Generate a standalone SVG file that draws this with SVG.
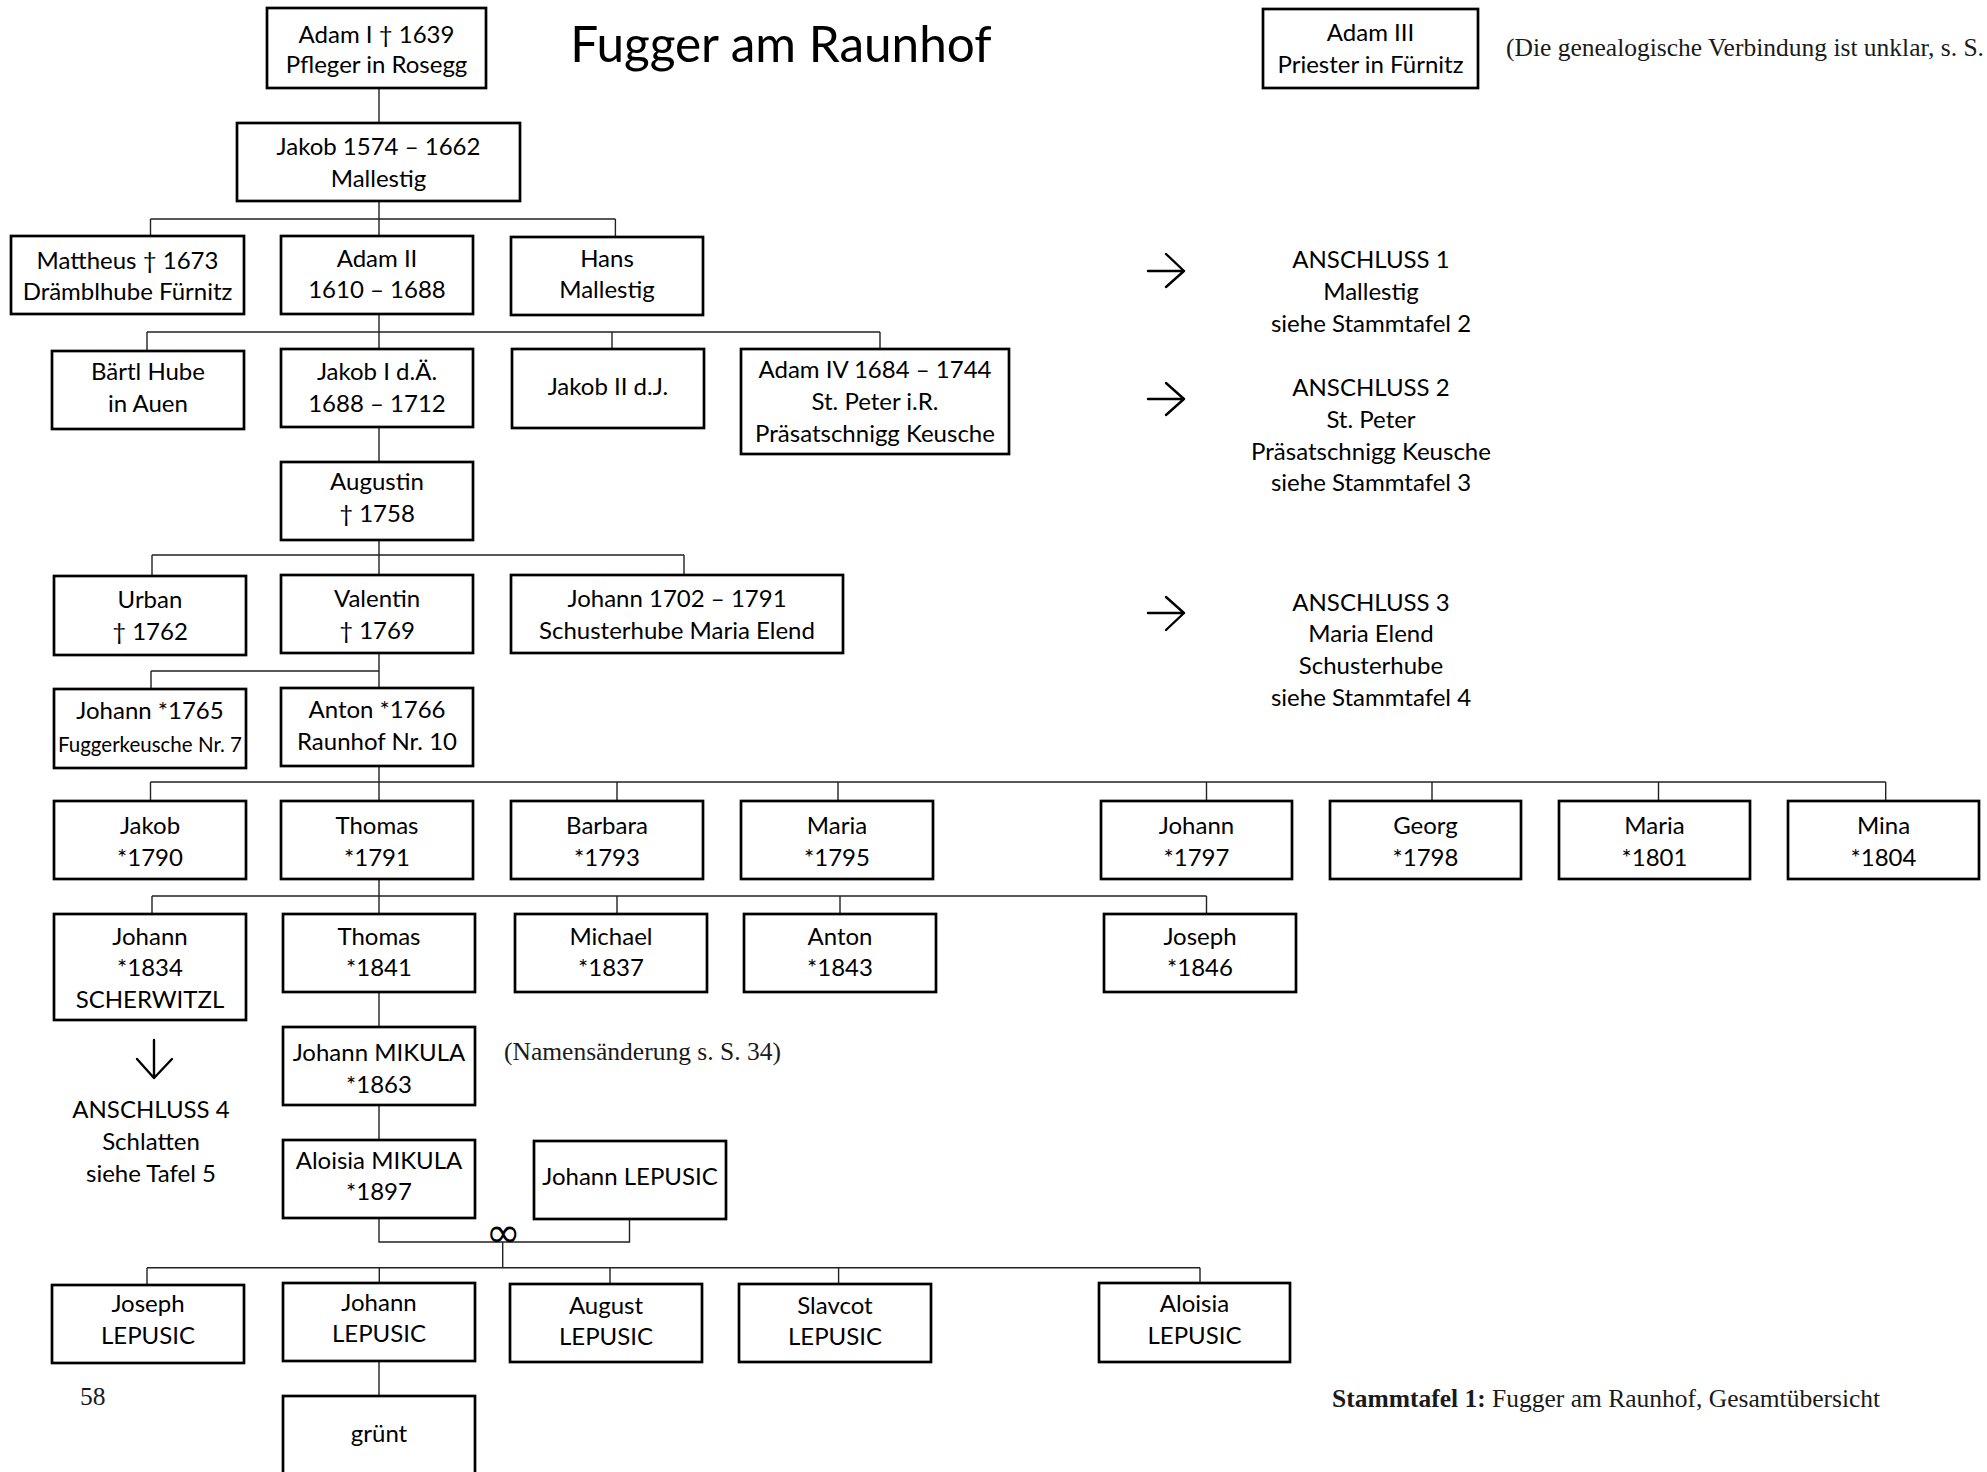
<svg xmlns="http://www.w3.org/2000/svg" width="1987" height="1472" viewBox="0 0 1987 1472">
<style>
.b{fill:#fff;stroke:#000;stroke-width:2.7}
.t{font-family:Lato,"Open Sans",sans-serif;font-size:24px;fill:#000;text-anchor:middle}
.sm{font-size:20.5px}
.c{fill:none;stroke:#222;stroke-width:1.4}
.s{font-family:"Liberation Serif",serif;font-size:25.5px;fill:#1a1a1a}
.ar{fill:none;stroke:#000;stroke-width:2.4;stroke-linecap:round;stroke-linejoin:round}
</style>
<rect width="1987" height="1472" fill="#fff"/>
<g id="connectors" class="c">
<path d="M379 88V123M379 201V236M150.5 219H615.4M150.5 219V236M615.4 219V237"/>
<path d="M379 314V349M147 332H880M147 332V351M612 332V349M880 332V349"/>
<path d="M379 427V462M379 540V575M152 555H684M152 555V576M684 555V575"/>
<path d="M379 653V688M151 671H379M151 671V689"/>
<path d="M379 766V801M150.5 782H1885.7M150.5 782V801M617 782V801M838 782V801M1206.5 782V801M1432 782V801M1658.5 782V801M1885.7 782V801"/>
<path d="M379 879V914M152 896H1206.5M152 896V914M617 896V914M840 896V914M1206.5 896V914"/>
<path d="M379 992V1027M379 1105V1140M379 1217V1242H629.5V1219M502.7 1242V1267.7"/>
<path d="M147 1267.7H1200M147 1267.7V1285M379.3 1267.7V1283M610 1267.7V1284M838.6 1267.7V1284M1200 1267.7V1283M379 1361V1396"/>
</g>
<g id="title"><text class="t" x="781" y="62" style="font-size:49.5px">Fugger am Raunhof</text></g>
<g id="note-top"><text class="s" x="1506" y="56">(Die genealogische Verbindung ist unklar, s. S.</text></g>
<g id="adam1"><rect class="b" x="267" y="8" width="219" height="80"/><text class="t" x="376.5" y="42.5">Adam I † 1639</text><text class="t" x="376.5" y="73">Pfleger in Rosegg</text></g>
<g id="adam3"><rect class="b" x="1263" y="9" width="215" height="79"/><text class="t" x="1370.5" y="41">Adam III</text><text class="t" x="1370.5" y="72.7">Priester in Fürnitz</text></g>
<g id="jakob1574"><rect class="b" x="237" y="123" width="283" height="78"/><text class="t" x="378.5" y="155">Jakob 1574 – 1662</text><text class="t" x="378.5" y="187">Mallestig</text></g>
<g id="mattheus"><rect class="b" x="11" y="236" width="233" height="78"/><text class="t" x="127.5" y="269">Mattheus † 1673</text><text class="t" x="127.5" y="300">Drämblhube Fürnitz</text></g>
<g id="adam2"><rect class="b" x="281" y="236" width="192" height="78"/><text class="t" x="377" y="266.7">Adam II</text><text class="t" x="377" y="298.3">1610 – 1688</text></g>
<g id="hans"><rect class="b" x="511" y="237" width="192" height="78"/><text class="t" x="607" y="266.7">Hans</text><text class="t" x="607" y="298.3">Mallestig</text></g>
<g id="baertl"><rect class="b" x="52" y="351" width="192" height="78"/><text class="t" x="148" y="380">Bärtl Hube</text><text class="t" x="148" y="411.7">in Auen</text></g>
<g id="jakob1da"><rect class="b" x="281" y="349" width="192" height="78"/><text class="t" x="377" y="380">Jakob I d.Ä.</text><text class="t" x="377" y="411.7">1688 – 1712</text></g>
<g id="jakob2dj"><rect class="b" x="512" y="349" width="192" height="79"/><text class="t" x="608" y="395">Jakob II d.J.</text></g>
<g id="adam4"><rect class="b" x="741" y="349" width="268" height="105"/><text class="t" x="875" y="378">Adam IV 1684 – 1744</text><text class="t" x="875" y="410">St. Peter i.R.</text><text class="t" x="875" y="441.7">Präsatschnigg Keusche</text></g>
<g id="augustin"><rect class="b" x="281" y="462" width="192" height="78"/><text class="t" x="377" y="490">Augustin</text><text class="t" x="377" y="521.7">† 1758</text></g>
<g id="urban"><rect class="b" x="54" y="576" width="192" height="79"/><text class="t" x="150" y="608">Urban</text><text class="t" x="150" y="640">† 1762</text></g>
<g id="valentin"><rect class="b" x="281" y="575" width="192" height="78"/><text class="t" x="377" y="607">Valentin</text><text class="t" x="377" y="639">† 1769</text></g>
<g id="johann1702"><rect class="b" x="511" y="575" width="332" height="78"/><text class="t" x="677" y="607">Johann 1702 – 1791</text><text class="t" x="677" y="639">Schusterhube Maria Elend</text></g>
<g id="johann1765"><rect class="b" x="54" y="689" width="192" height="79"/><text class="t" x="150" y="719.3">Johann *1765</text><text class="t sm" x="150" y="751.7">Fuggerkeusche Nr. 7</text></g>
<g id="anton1766"><rect class="b" x="281" y="688" width="192" height="78"/><text class="t" x="377" y="718.3">Anton *1766</text><text class="t" x="377" y="750">Raunhof Nr. 10</text></g>
<g id="jakob1790"><rect class="b" x="54" y="801" width="192" height="78"/><text class="t" x="150" y="834">Jakob</text><text class="t" x="150" y="866">*1790</text></g>
<g id="thomas1791"><rect class="b" x="281" y="801" width="192" height="78"/><text class="t" x="377" y="834">Thomas</text><text class="t" x="377" y="866">*1791</text></g>
<g id="barbara1793"><rect class="b" x="511" y="801" width="192" height="78"/><text class="t" x="607" y="834">Barbara</text><text class="t" x="607" y="866">*1793</text></g>
<g id="maria1795"><rect class="b" x="741" y="801" width="192" height="78"/><text class="t" x="837" y="834">Maria</text><text class="t" x="837" y="866">*1795</text></g>
<g id="johann1797"><rect class="b" x="1101" y="801" width="191" height="78"/><text class="t" x="1196.5" y="834">Johann</text><text class="t" x="1196.5" y="866">*1797</text></g>
<g id="georg1798"><rect class="b" x="1330" y="801" width="191" height="78"/><text class="t" x="1425.5" y="834">Georg</text><text class="t" x="1425.5" y="866">*1798</text></g>
<g id="maria1801"><rect class="b" x="1559" y="801" width="191" height="78"/><text class="t" x="1654.5" y="834">Maria</text><text class="t" x="1654.5" y="866">*1801</text></g>
<g id="mina1804"><rect class="b" x="1788" y="801" width="191" height="78"/><text class="t" x="1883.5" y="834">Mina</text><text class="t" x="1883.5" y="866">*1804</text></g>
<g id="johann1834"><rect class="b" x="54" y="914" width="192" height="106"/><text class="t" x="150" y="945">Johann</text><text class="t" x="150" y="976">*1834</text><text class="t" x="150" y="1008">SCHERWITZL</text></g>
<g id="thomas1841"><rect class="b" x="283" y="914" width="192" height="78"/><text class="t" x="379" y="945">Thomas</text><text class="t" x="379" y="976">*1841</text></g>
<g id="michael1837"><rect class="b" x="515" y="914" width="192" height="78"/><text class="t" x="611" y="945">Michael</text><text class="t" x="611" y="976">*1837</text></g>
<g id="anton1843"><rect class="b" x="744" y="914" width="192" height="78"/><text class="t" x="840" y="945">Anton</text><text class="t" x="840" y="976">*1843</text></g>
<g id="joseph1846"><rect class="b" x="1104" y="914" width="192" height="78"/><text class="t" x="1200" y="945">Joseph</text><text class="t" x="1200" y="976">*1846</text></g>
<g id="johannMikula"><rect class="b" x="283" y="1027" width="192" height="78"/><text class="t" x="379" y="1061">Johann MIKULA</text><text class="t" x="379" y="1093">*1863</text></g>
<g id="note-name"><text class="s" x="504" y="1060">(Namensänderung s. S. 34)</text></g>
<g id="aloisiaMikula"><rect class="b" x="283" y="1140" width="192" height="78"/><text class="t" x="379" y="1169">Aloisia MIKULA</text><text class="t" x="379" y="1200">*1897</text></g>
<g id="johannLepusicSpouse"><rect class="b" x="534" y="1141" width="192" height="78"/><text class="t" x="630" y="1185">Johann LEPUSIC</text></g>
<g id="marriage"><text x="503" y="1247" style="font-family:'DejaVu Sans',sans-serif;font-size:42px;text-anchor:middle;fill:#000">∞</text></g>
<g id="josephLepusic"><rect class="b" x="52" y="1285" width="192" height="78"/><text class="t" x="148" y="1312">Joseph</text><text class="t" x="148" y="1344">LEPUSIC</text></g>
<g id="johannLepusic"><rect class="b" x="283" y="1283" width="192" height="78"/><text class="t" x="379" y="1311">Johann</text><text class="t" x="379" y="1342">LEPUSIC</text></g>
<g id="augustLepusic"><rect class="b" x="510" y="1284" width="192" height="78"/><text class="t" x="606" y="1314">August</text><text class="t" x="606" y="1345">LEPUSIC</text></g>
<g id="slavcotLepusic"><rect class="b" x="739" y="1284" width="192" height="78"/><text class="t" x="835" y="1314">Slavcot</text><text class="t" x="835" y="1345">LEPUSIC</text></g>
<g id="aloisiaLepusic"><rect class="b" x="1099" y="1283" width="191" height="79"/><text class="t" x="1194.5" y="1312">Aloisia</text><text class="t" x="1194.5" y="1344">LEPUSIC</text></g>
<g id="gruent"><rect class="b" x="283" y="1396" width="192" height="100"/><text class="t" x="379" y="1442">grünt</text></g>
<g id="anschluss1"><path class="ar" d="M1148 271H1184M1166 254L1184 271L1166 287"/><text class="t" x="1371" y="268">ANSCHLUSS 1</text><text class="t" x="1371" y="300">Mallestig</text><text class="t" x="1371" y="331.5">siehe Stammtafel 2</text></g>
<g id="anschluss2"><path class="ar" d="M1148 399H1184M1166 383L1184 399L1166 415"/><text class="t" x="1371" y="396">ANSCHLUSS 2</text><text class="t" x="1371" y="428">St. Peter</text><text class="t" x="1371" y="460">Präsatschnigg Keusche</text><text class="t" x="1371" y="491">siehe Stammtafel 3</text></g>
<g id="anschluss3"><path class="ar" d="M1148 613H1184M1166 597L1184 613L1166 630"/><text class="t" x="1371" y="611">ANSCHLUSS 3</text><text class="t" x="1371" y="642">Maria Elend</text><text class="t" x="1371" y="674">Schusterhube</text><text class="t" x="1371" y="706">siehe Stammtafel 4</text></g>
<g id="anschluss4"><path class="ar" d="M154 1040V1078M137 1059L154 1078L172 1059"/><text class="t" x="151" y="1118">ANSCHLUSS 4</text><text class="t" x="151" y="1150">Schlatten</text><text class="t" x="151" y="1182">siehe Tafel 5</text></g>
<g id="footer"><text class="s" x="80" y="1405">58</text><text class="s" x="1332" y="1407"><tspan font-weight="bold">Stammtafel 1:</tspan> Fugger am Raunhof, Gesamtübersicht</text></g>
</svg>
